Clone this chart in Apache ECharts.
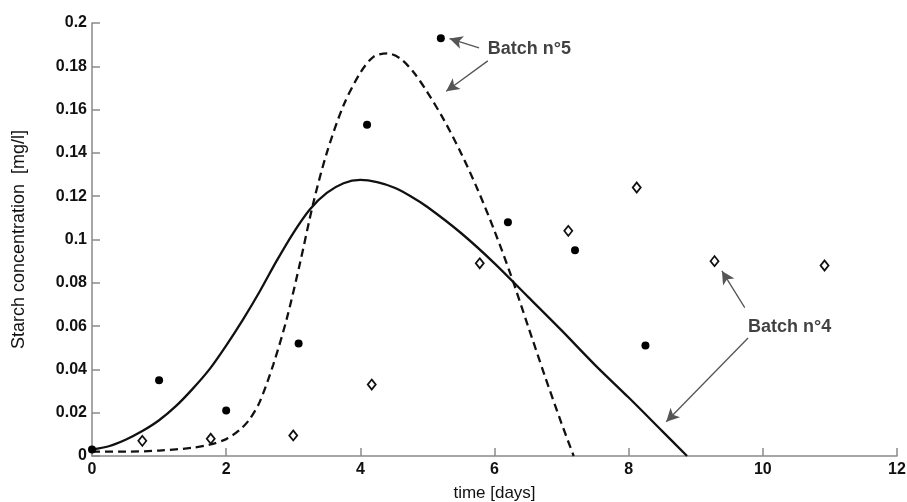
<!DOCTYPE html>
<html>
<head>
<meta charset="utf-8">
<script src="https://cdn.jsdelivr.net/npm/echarts@6/dist/echarts.min.js"></script>
<style>
  html, body { margin: 0; padding: 0; background: #fff; }
  #chart { width: 907px; height: 502px; }
</style>
</head>
<body>
<div id="chart"></div>
<script>
// Measured starch concentration [mg/l] against time [days]
var batch5Points = [[0, 0.003], [1.0, 0.035], [2.0, 0.021], [3.08, 0.052], [4.1, 0.153],
                    [5.2, 0.193], [6.2, 0.108], [7.2, 0.095], [8.25, 0.051]];
var batch4Points = [[0.75, 0.007], [1.77, 0.008], [3.0, 0.0095], [4.17, 0.033], [5.78, 0.089],
                    [7.1, 0.104], [8.12, 0.124], [9.28, 0.090], [10.92, 0.088]];

// Model curves for each batch
var batch4Model = [[0, 0.003], [0.25, 0.0045], [0.5, 0.0075], [0.75, 0.0115], [1.0, 0.0165],
                   [1.25, 0.023], [1.5, 0.031], [1.75, 0.040], [2.0, 0.051], [2.25, 0.063],
                   [2.5, 0.076], [2.75, 0.090], [3.0, 0.103], [3.25, 0.114], [3.5, 0.1215],
                   [3.75, 0.126], [4.0, 0.1275], [4.25, 0.1265], [4.5, 0.124], [4.75, 0.120],
                   [5.0, 0.115], [5.5, 0.103], [6.0, 0.089], [6.5, 0.0735], [7.0, 0.058],
                   [7.5, 0.042], [8.0, 0.027], [8.5, 0.0115], [8.87, 0.0]];
var batch5Model = [[0, 0.002], [0.5, 0.002], [1.0, 0.0025], [1.5, 0.0038], [1.75, 0.0052],
                   [2.0, 0.0078], [2.2, 0.012], [2.35, 0.017], [2.5, 0.025], [2.7, 0.042],
                   [2.9, 0.063], [3.1, 0.089], [3.3, 0.117], [3.5, 0.140], [3.75, 0.162],
                   [4.0, 0.177], [4.2, 0.1845], [4.4, 0.186], [4.6, 0.1835], [4.8, 0.177],
                   [5.0, 0.168], [5.25, 0.155], [5.5, 0.140], [5.75, 0.123], [6.0, 0.104],
                   [6.25, 0.083], [6.5, 0.060], [6.75, 0.037], [7.0, 0.015], [7.18, 0.0]];

// Tick values
var xTicks = [0, 2, 4, 6, 8, 10, 12];
var yTicks = [0, 0.02, 0.04, 0.06, 0.08, 0.1, 0.12, 0.14, 0.16, 0.18, 0.2];

// Callout texts and arrows (data coordinates: [from, to])
var calloutLabels = [
  { text: 'Batch n°5', at: [5.9, 0.188] },
  { text: 'Batch n°4', at: [9.78, 0.0597] }
];
var calloutArrows = [
  [[5.77, 0.1885], [5.33, 0.1928]],
  [[5.9, 0.1825], [5.28, 0.1685]],
  [[9.73, 0.0685], [9.39, 0.0855]],
  [[9.78, 0.0545], [8.56, 0.0158]]
];

var fontFamily = '"Liberation Sans", Arial, Helvetica, sans-serif';
var axisGray = '#8a8a8a';

var chart = echarts.init(document.getElementById('chart'), null, { renderer: 'canvas' });

chart.setOption({
  animation: false,
  backgroundColor: '#fff',
  grid: { left: 92, right: 10, top: 23, bottom: 46, containLabel: false, outerBoundsMode: 'none' },
  xAxis: {
    type: 'value', min: 0, max: 12, interval: 2,
    name: 'time [days]', nameLocation: 'middle', nameGap: 29,
    nameTextStyle: { color: '#111', fontSize: 17, fontFamily: fontFamily },
    axisLine: { show: true, lineStyle: { color: axisGray, width: 1.5 } },
    axisTick: { show: true, inside: true, length: 8, lineStyle: { color: axisGray, width: 1.5 } },
    axisLabel: {
      color: '#111', fontSize: 16, fontWeight: 'bold', fontFamily: fontFamily, margin: 6,
      formatter: function (v) { return xTicks.indexOf(v) >= 0 ? String(v) : ''; }
    },
    splitLine: { show: false }
  },
  yAxis: {
    type: 'value', min: 0, max: 0.2, interval: 0.02,
    name: 'Starch concentration  [mg/l]', nameLocation: 'middle', nameGap: 64, nameRotate: 90,
    nameTextStyle: { color: '#111', fontSize: 18, fontFamily: fontFamily },
    axisLine: { show: true, lineStyle: { color: axisGray, width: 1.5 } },
    axisTick: { show: true, inside: true, length: 8, lineStyle: { color: axisGray, width: 1.5 } },
    axisLabel: {
      color: '#111', fontSize: 16, fontWeight: 'bold', fontFamily: fontFamily, margin: 5,
      formatter: function (v) {
        var t = yTicks.find(function (y) { return Math.abs(y - v) < 1e-9; });
        return t === undefined ? '' : String(parseFloat(t.toFixed(2)));
      }
    },
    splitLine: { show: false }
  },
  series: [
    {
      name: 'Batch 4 model', type: 'line', data: batch4Model, smooth: 0.3,
      showSymbol: false, symbol: 'none',
      lineStyle: { color: '#111', width: 2.3 }, z: 3
    },
    {
      name: 'Batch 5 model', type: 'line', data: batch5Model, smooth: 0.3,
      showSymbol: false, symbol: 'none',
      lineStyle: { color: '#111', width: 2.3, type: [8, 5] }, z: 3
    },
    {
      name: 'Batch n°5', type: 'scatter', data: batch5Points,
      symbol: 'circle', symbolSize: 8,
      itemStyle: { color: '#000', opacity: 1 }, z: 5
    },
    {
      name: 'Batch n°4', type: 'scatter', data: batch4Points,
      symbol: 'diamond', symbolSize: [8, 10],
      itemStyle: { color: '#fff', borderColor: '#111', borderWidth: 1.8, opacity: 1 }, z: 5
    },
    {
      name: 'callouts', type: 'scatter', symbolSize: 0, silent: true,
      data: calloutLabels.map(function (c) { return { value: c.at, name: c.text }; }),
      label: {
        show: true, position: 'right', distance: 0,
        formatter: '{b}', color: '#111', fontSize: 18, fontWeight: 'bold', fontFamily: fontFamily
      },
      markLine: {
        silent: true, symbol: ['none', 'arrow'], symbolSize: [10, 13],
        label: { show: false },
        lineStyle: { color: '#555', width: 1.3, type: 'solid' },
        data: calloutArrows.map(function (a) {
          return [{ coord: a[0] }, { coord: a[1] }];
        })
      },
      z: 6
    }
  ]
});
</script>
</body>
</html>
